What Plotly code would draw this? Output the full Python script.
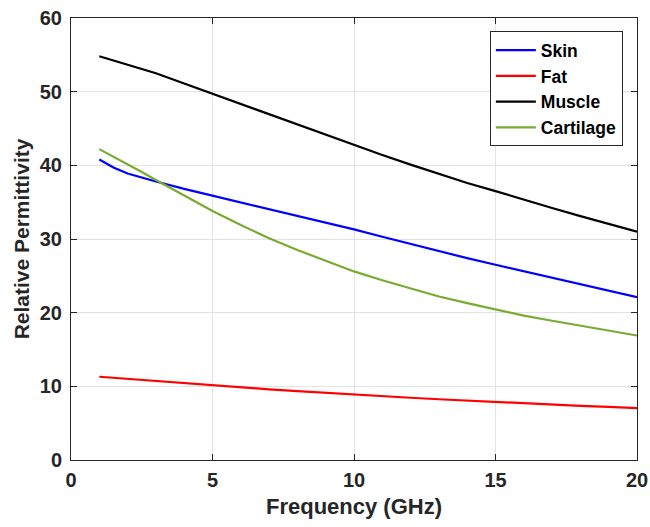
import plotly.graph_objects as go

# Frequency points (GHz)
freq = [1, 1.5, 2, 2.5, 3, 4, 5, 6, 7, 8, 9, 10, 11, 12, 13, 14, 15, 16, 17, 18, 19, 20]

# Relative permittivity of each tissue
skin = [40.8, 39.7, 38.9, 38.3, 37.8, 36.8, 35.9, 35.0, 34.1, 33.2, 32.2, 31.3,
        30.3, 29.3, 28.4, 27.4, 26.5, 25.6, 24.7, 23.8, 22.9, 22.1]
fat = [11.3, 11.15, 11.0, 10.85, 10.7, 10.4, 10.1, 9.85, 9.6, 9.35, 9.1, 8.85,
       8.65, 8.45, 8.25, 8.05, 7.85, 7.7, 7.5, 7.35, 7.2, 7.05]
muscle = [54.8, 54.2, 53.7, 53.1, 52.5, 51.1, 49.7, 48.3, 46.9, 45.5, 44.1, 42.8,
          41.4, 40.1, 38.8, 37.6, 36.5, 35.3, 34.2, 33.1, 32.0, 31.0]
cartilage = [42.2, 41.2, 40.2, 39.1, 38.0, 35.9, 33.8, 31.9, 30.1, 28.5, 27.0, 25.6,
             24.4, 23.3, 22.2, 21.3, 20.4, 19.6, 18.9, 18.2, 17.5, 16.9]

series = [
    ("Skin", skin, "#0000ff"),
    ("Fat", fat, "#ff0000"),
    ("Muscle", muscle, "#000000"),
    ("Cartilage", cartilage, "#77ac30"),
]

x_ticks = [0, 5, 10, 15, 20]
y_ticks = [0, 10, 20, 30, 40, 50, 60]

fig = go.Figure()
for name, vals, color in series:
    fig.add_trace(go.Scatter(
        x=freq, y=vals, name=name, mode="lines",
        line=dict(color=color, width=2.2),
    ))

font_family = "Liberation Sans, Arial, sans-serif"
axis_common = dict(
    showline=True, linecolor="#262626", linewidth=1, mirror="ticks",
    ticks="inside", ticklen=6, tickcolor="#262626", tickwidth=1,
    showgrid=True, gridcolor="#e3e3e3", gridwidth=1,
    zeroline=False, automargin=False,
    tickfont=dict(family=font_family, size=20, color="#262626", weight="bold"),
)

fig.update_layout(
    width=650, height=527,
    margin=dict(l=71, r=13, t=18, b=67),
    paper_bgcolor="white", plot_bgcolor="white",
    showlegend=True,
    legend=dict(
        x=0.975, y=0.97, xanchor="right", yanchor="top",
        bgcolor="white", bordercolor="#262626", borderwidth=1,
        font=dict(family=font_family, size=17.5, color="#000000", weight="bold"),
        tracegroupgap=0, itemwidth=40,
    ),
    xaxis=dict(
        range=[0, 20], tickvals=x_ticks, ticklabelstandoff=2,
        title=dict(text="Frequency (GHz)", standoff=8,
                   font=dict(family=font_family, size=22, color="#262626", weight="bold")),
        **axis_common,
    ),
    yaxis=dict(
        range=[0, 60], tickvals=y_ticks, ticklabelstandoff=4,
        title=dict(text="Relative Permittivity", standoff=4,
                   font=dict(family=font_family, size=21, color="#262626", weight="bold")),
        **axis_common,
    ),
)

fig.write_html("out.html")
